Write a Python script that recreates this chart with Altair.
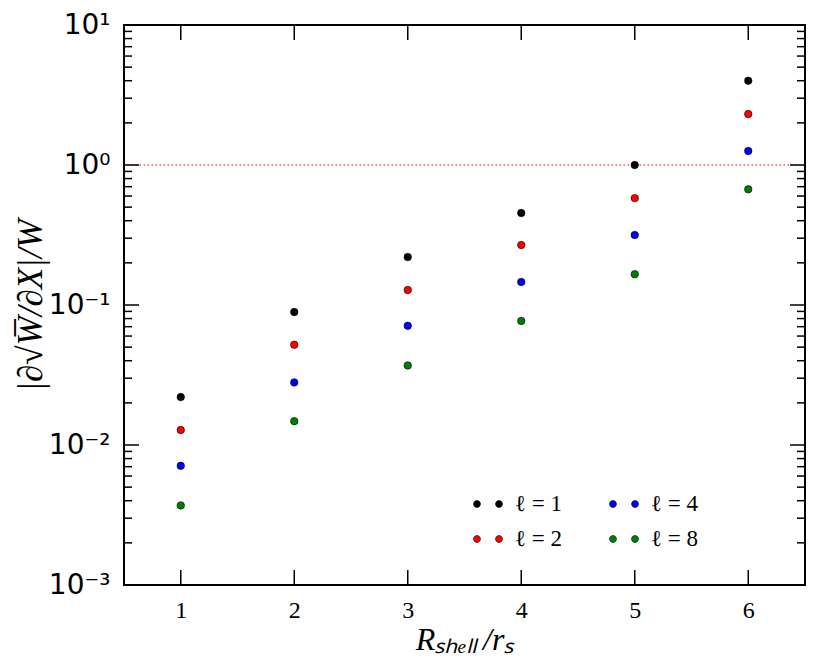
import altair as alt
import pandas as pd

# ---- data ----
x_vals = [1, 2, 3, 4, 5, 6]
l1 = [0.022, 0.089, 0.22, 0.454, 1.0, 4.0]
l2 = [0.0128, 0.052, 0.128, 0.268, 0.58, 2.31]
l4 = [0.0071, 0.028, 0.071, 0.146, 0.316, 1.26]
l8 = [0.0037, 0.0148, 0.037, 0.077, 0.166, 0.67]
series_names = ["ℓ = 1", "ℓ = 2", "ℓ = 4", "ℓ = 8"]
series_colors = ["#000000", "#ff0000", "#0000ff", "#008000"]

y_major = [0.001, 0.01, 0.1, 1, 10]
y_major_labels = ["10⁻³", "10⁻²", "10⁻¹", "10⁰", "10¹"]
mantissas = [2, 3, 4, 5, 6, 7, 8, 9]
decades = [0.001, 0.01, 0.1, 1]
y_minor = [m * d for d in decades for m in mantissas]
x_major = [1, 2, 3, 4, 5, 6]
hline = [1.0]

W, H = 681, 560
MAJ, MIN = 15, 8

rows = []
for name, vals in zip(series_names, [l1, l2, l4, l8]):
    for xv, yv in zip(x_vals, vals):
        rows.append({"x": xv, "y": yv, "series": name})
df = pd.DataFrame(rows)

xscale = alt.Scale(domain=[0.5, 6.5], nice=False, zero=False)
yscale = alt.Scale(type="log", domain=[0.001, 10], nice=False)

label_expr = " : ".join(
    f"datum.value < {v * 1.5} ? '{lab}'" for v, lab in zip(y_major[:-1], y_major_labels[:-1])
) + f" : '{y_major_labels[-1]}'"

xaxis = alt.Axis(
    values=x_major, format="d", ticks=False, domain=False, grid=False,
    labelFont="Liberation Serif", labelFontSize=24, labelColor="black", labelPadding=13,
    title="Rₛₕₑₗₗ\u2009/rₛ", titleFont="Liberation Serif", titleFontStyle="italic",
    titleFontWeight="normal", titleFontSize=32, titleColor="black", titlePadding=2)
yaxis = alt.Axis(
    values=y_major, labelExpr=label_expr, ticks=False, domain=False, grid=False,
    labelFont="DejaVu Sans", labelFontSize=28, labelColor="black", labelPadding=14,
    title="|∂√W̅/∂X|/W", titleFont="Liberation Serif", titleFontStyle="italic",
    titleFontWeight="normal", titleFontSize=35, titleColor="black",
    titleX=-76, titleY=H / 2, titleBaseline="bottom", titleAngle=270)

points = alt.Chart(df).mark_circle(size=56, opacity=1, stroke="black", strokeWidth=0.6).encode(
    x=alt.X("x:Q", scale=xscale, axis=xaxis),
    y=alt.Y("y:Q", scale=yscale, axis=yaxis),
    fill=alt.Fill("series:N", scale=alt.Scale(domain=series_names, range=series_colors),
                  legend=alt.Legend(
                      title=None, orient="none", legendX=349, legendY=464, columns=2,
                      symbolType="M -1,0 A 0.24,0.24 0 1,0 -0.52,0 A 0.24,0.24 0 1,0 -1,0 Z M 0.52,0 A 0.24,0.24 0 1,0 1,0 A 0.24,0.24 0 1,0 0.52,0 Z",
                      symbolSize=841, symbolStrokeColor="black", symbolStrokeWidth=0.6,
                      symbolOpacity=1, labelFont="Liberation Serif", labelFontSize=23,
                      labelColor="black", labelOffset=12, columnPadding=46, rowPadding=8,
                      padding=0)),
)

hl = alt.Chart(pd.DataFrame({"v": hline})).mark_rule(
    color="red", strokeWidth=1, strokeDash=[1.5, 2.5]).encode(
    y=alt.Y("v:Q", scale=yscale, axis=yaxis))

ymaj = pd.DataFrame({"v": y_major})
ymin = pd.DataFrame({"v": y_minor})
xmaj = pd.DataFrame({"v": x_major})

def yticks(d, length, side):
    if side == "left":
        xa, xb = 0, length
    else:
        xa, xb = W - length, W
    return alt.Chart(d).mark_rule(color="black", strokeWidth=1.5).encode(
        y=alt.Y("v:Q", scale=yscale, axis=yaxis), x=alt.value(xa), x2=alt.value(xb))

def xticks(d, length, side):
    if side == "bottom":
        ya, yb = H - length, H
    else:
        ya, yb = 0, length
    return alt.Chart(d).mark_rule(color="black", strokeWidth=1.5).encode(
        x=alt.X("v:Q", scale=xscale, axis=xaxis), y=alt.value(ya), y2=alt.value(yb))

chart = alt.layer(
    hl,
    yticks(ymaj, MAJ, "left"), yticks(ymaj, MAJ, "right"),
    yticks(ymin, MIN, "left"), yticks(ymin, MIN, "right"),
    xticks(xmaj, MAJ, "bottom"), xticks(xmaj, MAJ, "top"),
    points,
).properties(
    width=W, height=H,
    autosize=alt.AutoSizeParams(type="none"),
    padding={"left": 116, "top": 17, "right": 12, "bottom": 70},
    background="white",
).configure_view(stroke="black", strokeWidth=2)

chart.save("out.html", embed_options={"renderer": "svg", "actions": False})
